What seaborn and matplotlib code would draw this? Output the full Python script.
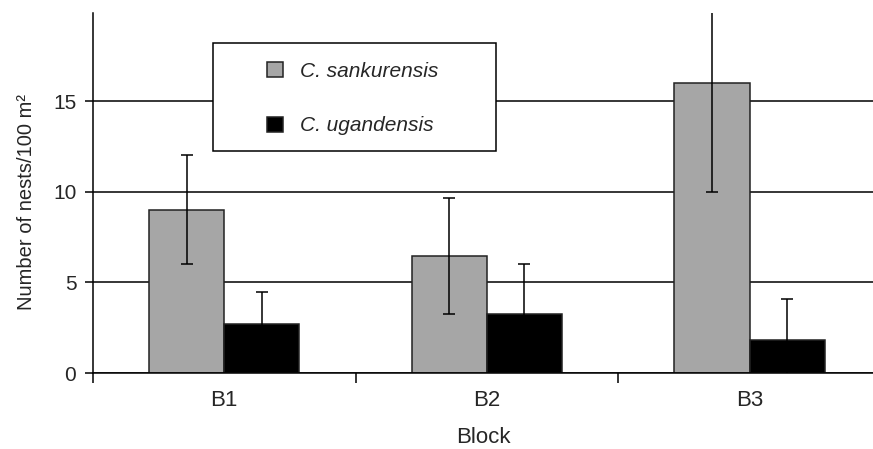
import numpy as np
import pandas as pd
import matplotlib
matplotlib.use("Agg")
import matplotlib.pyplot as plt
import seaborn as sns
from matplotlib.patches import Rectangle

# values
blocks = ["B1", "B2", "B3"]
species = ["C. sankurensis", "C. ugandensis"]
sankurensis_mean = [9.0, 6.45, 16.0]
sankurensis_err = [3.0, 3.2, 6.0]
ugandensis_mean = [2.7, 3.25, 1.8]
ugandensis_err = [1.75, 2.75, 2.3]
colors = ["#a6a6a6", "#000000"]

df = pd.DataFrame({
    "Block": blocks * 2,
    "Species": [species[0]] * 3 + [species[1]] * 3,
    "nests": sankurensis_mean + ugandensis_mean,
})
errors = [sankurensis_err, ugandensis_err]

sns.set_style("white")
plt.rcParams["font.family"] = ["Liberation Sans", "DejaVu Sans"]
plt.rcParams["font.size"] = 15

fig, ax = plt.subplots(figsize=(8.73, 4.49), dpi=100)
fig.subplots_adjust(left=0.1065, right=1.0, bottom=0.169, top=0.971)

sns.barplot(data=df, x="Block", y="nests", hue="Species", palette=colors,
            width=0.572, edgecolor="#222222", linewidth=1.1, errorbar=None,
            saturation=1, ax=ax)

# error bars on top of each bar
for container, errs in zip(ax.containers, errors):
    xs = [b.get_x() + b.get_width() / 2 for b in container]
    ys = [b.get_height() for b in container]
    ax.errorbar(xs, ys, yerr=errs, fmt="none", ecolor="black",
                elinewidth=1.1, capsize=4, capthick=1.1, zorder=4)

ax.set_ylim(0, 19.85)
ax.set_xlim(-0.5, 2.47)
ax.set_yticks([0, 5, 10, 15])
ax.set_xticks([-0.5, 0.5, 1.5], minor=True)

ax.yaxis.grid(True, color="black", linewidth=1.1)
ax.set_axisbelow(True)
sns.despine(ax=ax)
for s in ["left", "bottom"]:
    ax.spines[s].set_color("black")
    ax.spines[s].set_linewidth(1.1)

ax.tick_params(axis="y", left=True, length=6, width=1.1, color="black", pad=6, labelsize=15)
ax.tick_params(axis="x", which="major", bottom=True, length=0, pad=12.5, labelsize=16)
ax.tick_params(axis="x", which="minor", bottom=True, length=7, width=1.1, color="black")

ax.set_xlabel("Block", fontsize=16, labelpad=11.5)
ax.set_ylabel("Number of nests/100 m²", fontsize=14.5)
ax.yaxis.set_label_coords(-0.073, 0.475)

# legend box drawn separately so it can be wide and hide the grid
box = Rectangle((213 / 873, 1 - 151 / 449), (496 - 213) / 873, (151 - 43) / 449,
                transform=fig.transFigure, facecolor="white", edgecolor="black",
                linewidth=1.1, zorder=3)
ax.add_patch(box)

handles, labels = ax.get_legend_handles_labels()
leg = ax.legend(handles, labels, loc="upper left",
                bbox_to_anchor=(267 / 873, 1 - 62 / 449),
                bbox_transform=fig.transFigure, frameon=False, borderpad=0,
                borderaxespad=0, handlelength=0.77, handleheight=0.72,
                handletextpad=0.82, labelspacing=1.7,
                prop={"style": "italic", "size": 15})
leg.set_zorder(5)

plt.savefig("out.png", dpi=100)
